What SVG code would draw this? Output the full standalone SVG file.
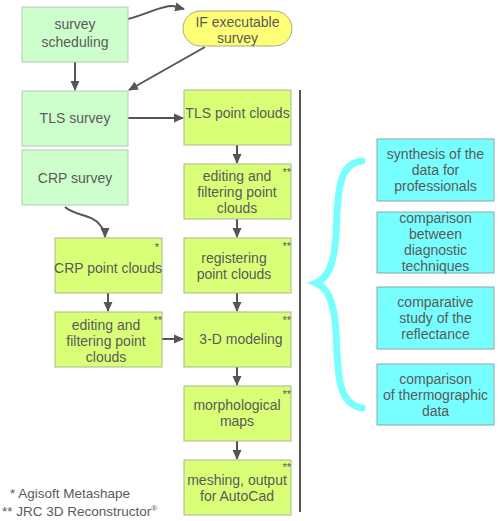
<svg xmlns="http://www.w3.org/2000/svg" width="500" height="521" viewBox="0 0 500 521">
<defs>
<marker id="ah" markerWidth="10" markerHeight="10" refX="9" refY="5" orient="auto" markerUnits="userSpaceOnUse">
<path d="M0,0.5 L10,5 L0,9.5 Z" fill="#555555"/>
</marker>
<style>
.t{font-family:"Liberation Sans",Arial,sans-serif;font-size:14px;fill:#5a5a5a;text-anchor:middle}
.s{font-family:"Liberation Sans",Arial,sans-serif;font-size:11px;fill:#5a5a5a;text-anchor:end}
.lg{font-family:"Liberation Sans",Arial,sans-serif;font-size:13.5px;fill:#5a5a5a}
.g{fill:#ccffcc;stroke:#b8c8b8;stroke-width:1}
.y{fill:#d9ff77;stroke:#a8b890;stroke-width:1}
.c{fill:#77ffff;stroke:#8aa8a8;stroke-width:1}
.p{fill:#ffff77;stroke:#a8a880;stroke-width:1}
.e{fill:none;stroke:#555555;stroke-width:2;marker-end:url(#ah)}
</style>
</defs>
<rect width="500" height="521" fill="#ffffff"/>

<g id="connectors">
<path class="e" d="M128,19 C150,13 160,6 172,6 C177,6 180,8 184,9"/>
<path class="e" d="M205,47 L129,90"/>
<path class="e" d="M75,62 L75,90"/>
<path class="e" d="M128,118 L183,118"/>
<path class="e" d="M65,207 C75,216 92,214 100,225 C104,230 105,234 105,237"/>
<path class="e" d="M108,293 L108,311"/>
<path class="e" d="M162,339 L183,339"/>
<path class="e" d="M237,145 L237,163"/>
<path class="e" d="M237,219 L237,237"/>
<path class="e" d="M237,293 L237,311"/>
<path class="e" d="M237,367 L237,385"/>
<path class="e" d="M237,441 L237,459"/>
<path d="M300,90 L300,512" stroke="#555555" stroke-width="2" fill="none"/>
</g>

<g id="survey-scheduling">
<rect class="g" x="22" y="7" width="106" height="55"/>
<text class="t" x="75" y="29">survey</text>
<text class="t" x="75" y="47">scheduling</text>
</g>

<g id="if-executable">
<rect class="p" x="183" y="11" width="109" height="35" rx="17.5"/>
<text class="t" x="237.5" y="27">IF executable</text>
<text class="t" x="237.5" y="43">survey</text>
</g>

<g id="tls-survey">
<rect class="g" x="22" y="91" width="106" height="55"/>
<text class="t" x="75" y="123">TLS survey</text>
</g>

<g id="crp-survey">
<rect class="g" x="22" y="150" width="106" height="55"/>
<text class="t" x="75" y="183">CRP survey</text>
</g>

<g id="tls-point-clouds">
<rect class="y" x="184" y="90" width="107" height="55"/>
<text class="t" x="237.5" y="118">TLS point clouds</text>
</g>

<g id="editing-right">
<rect class="y" x="184" y="164" width="107" height="55"/>
<text class="t" x="237" y="181">editing and</text>
<text class="t" x="237" y="197">filtering point</text>
<text class="t" x="237" y="213">clouds</text>
<text class="s" x="291" y="176">**</text>
</g>

<g id="registering">
<rect class="y" x="184" y="238" width="107" height="55"/>
<text class="t" x="234" y="263">registering</text>
<text class="t" x="234" y="279">point clouds</text>
<text class="s" x="291" y="250">**</text>
</g>

<g id="modeling">
<rect class="y" x="184" y="312" width="107" height="55"/>
<text class="t" x="241" y="344">3-D modeling</text>
<text class="s" x="291" y="324">**</text>
</g>

<g id="morphological">
<rect class="y" x="184" y="386" width="107" height="55"/>
<text class="t" x="237" y="410">morphological</text>
<text class="t" x="237" y="426">maps</text>
<text class="s" x="291" y="398">**</text>
</g>

<g id="meshing">
<rect class="y" x="184" y="460" width="107" height="55"/>
<text class="t" x="237" y="485">meshing, output</text>
<text class="t" x="237" y="501">for AutoCad</text>
<text class="s" x="291" y="471">**</text>
</g>

<g id="crp-point-clouds">
<rect class="y" x="55" y="238" width="107" height="55"/>
<text class="t" x="108" y="273">CRP point clouds</text>
<text class="s" x="159" y="251">*</text>
</g>

<g id="editing-left">
<rect class="y" x="55" y="312" width="107" height="55"/>
<text class="t" x="106" y="330">editing and</text>
<text class="t" x="106" y="346">filtering point</text>
<text class="t" x="106" y="362">clouds</text>
<text class="s" x="162" y="324">**</text>
</g>

<g id="brace">
<path d="M362,161 C336,163 338,200 336,235 C334,268 326,279 316,283 C326,287 334,298 336,332 C338,368 336,404 362,408" fill="none" stroke="#77ffff" stroke-width="7" stroke-linecap="round"/>
</g>

<g id="synthesis">
<rect class="c" x="377" y="139" width="117" height="62"/>
<text class="t" x="435.5" y="159">synthesis of the</text>
<text class="t" x="435.5" y="175">data for</text>
<text class="t" x="435.5" y="191">professionals</text>
</g>

<g id="comparison-diagnostic">
<rect class="c" x="377" y="212" width="117" height="61"/>
<text class="t" x="435.5" y="223">comparison</text>
<text class="t" x="435.5" y="239">between</text>
<text class="t" x="435.5" y="255">diagnostic</text>
<text class="t" x="435.5" y="271">techniques</text>
</g>

<g id="comparative-study">
<rect class="c" x="377" y="287" width="117" height="62"/>
<text class="t" x="435.5" y="307">comparative</text>
<text class="t" x="435.5" y="323">study of the</text>
<text class="t" x="435.5" y="339">reflectance</text>
</g>

<g id="comparison-thermo">
<rect class="c" x="377" y="364" width="117" height="61"/>
<text class="t" x="435.5" y="384">comparison</text>
<text class="t" x="435.5" y="400">of thermographic</text>
<text class="t" x="435.5" y="416">data</text>
</g>

<g id="legend">
<text class="lg" x="10" y="498">* Agisoft Metashape</text>
<text class="lg" x="2" y="516">** JRC 3D Reconstructor<tspan font-size="8" dy="-5">®</tspan></text>
</g>
</svg>
